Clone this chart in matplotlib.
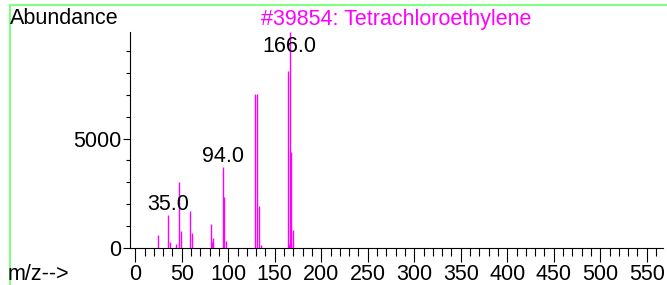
import matplotlib.pyplot as plt
from matplotlib.lines import Line2D
from matplotlib.ticker import MultipleLocator

plt.rcParams['font.family'] = ['Liberation Sans', 'DejaVu Sans']

# m/z and abundance
mz = [24, 35, 37, 44, 47, 49, 59, 61, 82, 83, 84, 94, 96, 98,
      129, 131, 133, 135, 164, 165, 166, 167, 168, 170]
abundance = [580, 1500, 280, 170, 3030, 780, 1700, 660, 1090, 280, 460, 3700, 2330, 320,
             7050, 7050, 1930, 120, 8100, 150, 9890, 150, 4400, 800]
labeled = [35, 94, 166]
title = "#39854: Tetrachloroethylene"

pink = "#ff00ff"
fs = 15.5
fig = plt.figure(figsize=(6.67, 2.85), dpi=100)
ax = fig.add_axes([0.1949, 0.1309, 0.7991, 0.7568])

ax.vlines(mz, 0, abundance, color=pink, linewidth=1.0)

ymax = 9890
ax.set_xlim(-5.6, 567.5)
ax.set_ylim(0, ymax)

for m in labeled:
    h = abundance[mz.index(m)]
    y = min(h + 250, ymax - 900)
    ax.text(m, y, "%.1f" % m, ha="center", va="baseline", fontsize=fs, color="black")

for s in ["top", "right"]:
    ax.spines[s].set_visible(False)
for s in ["left", "bottom"]:
    ax.spines[s].set_linewidth(0.8)
    ax.spines[s].set_color("black")

ax.xaxis.set_major_locator(MultipleLocator(50))
ax.xaxis.set_minor_locator(MultipleLocator(10))
ax.yaxis.set_major_locator(MultipleLocator(5000))
ax.yaxis.set_minor_locator(MultipleLocator(1000))
ax.tick_params(axis="x", which="major", length=10, width=0.8, labelsize=fs, pad=1.5)
ax.tick_params(axis="x", which="minor", length=6, width=0.8)
ax.tick_params(axis="y", which="major", length=5, width=0.8, labelsize=fs, pad=1)
ax.tick_params(axis="y", which="minor", length=3, width=0.8)

fig.text(10 / 667, 1 - 19 / 285, "Abundance", fontsize=fs, va="center", ha="left")
fig.text(396 / 667, 1 - 20 / 285, title, fontsize=fs, color=pink, va="center", ha="center")
fig.text(8 / 667, 1 - 274 / 285, "m/z-->", fontsize=fs, va="center", ha="left")

green = "#80ff80"
fig.add_artist(Line2D([9.5 / 667, 1], [1 - 5 / 285, 1 - 5 / 285], color=green, linewidth=1.5))
fig.add_artist(Line2D([9.5 / 667, 9.5 / 667], [0, 1 - 5 / 285], color=green, linewidth=1.5))

fig.savefig("out.png", dpi=100)
